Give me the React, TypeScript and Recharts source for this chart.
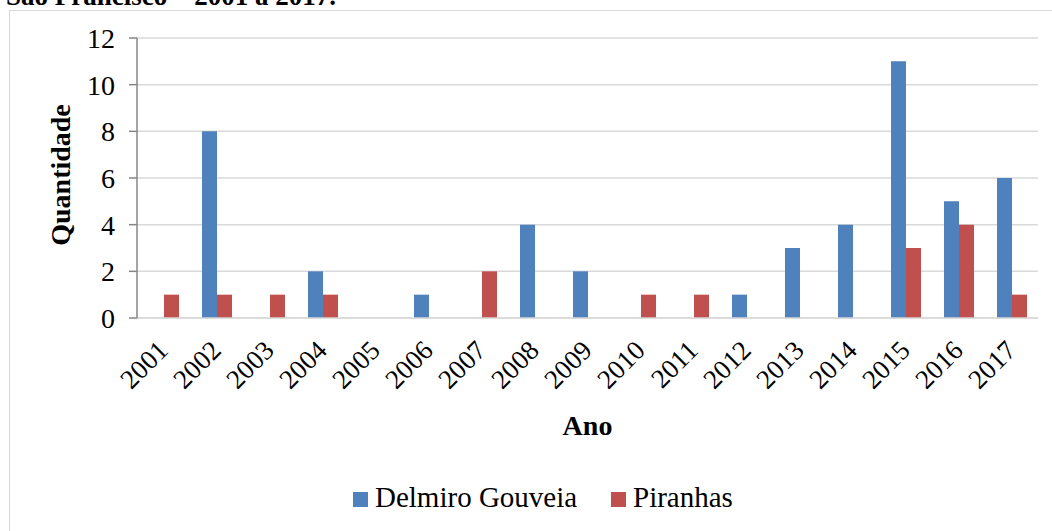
import React from 'react';
import { BarChart, Bar, XAxis, YAxis, CartesianGrid, Legend } from 'recharts';

const years = ['2001','2002','2003','2004','2005','2006','2007','2008','2009','2010','2011','2012','2013','2014','2015','2016','2017'];
const delmiroGouveia = [0, 8, 0, 2, 0, 1, 0, 4, 2, 0, 0, 1, 3, 4, 11, 5, 6];
const piranhas = [1, 1, 1, 1, 0, 0, 2, 0, 0, 1, 1, 0, 0, 0, 3, 4, 1];
const yTicks = [0, 2, 4, 6, 8, 10, 12];

const BLUE = '#4f81bd';
const RED = '#c0504d';
const FONT = "'Liberation Serif', 'Times New Roman', serif";

const data = years.map((y, i) => ({ ano: y, dg: delmiroGouveia[i], pi: piranhas[i] }));

const XTick = (props: any) => {
  const { x, y, payload } = props;
  const ex = x + 6;
  const ey = y + 34;
  return (
    <text x={ex} y={ey} textAnchor="end" transform={`rotate(-45, ${ex}, ${ey})`}
      fontFamily={FONT} fontSize={27} fill="#000">{payload.value}</text>
  );
};

const LegendContent = () => (
  <div style={{ position: 'relative', width: 1052, height: 60, fontFamily: FONT, fontSize: 29, color: '#000' }}>
    <div style={{ position: 'absolute', left: 353, top: 21, width: 15, height: 15, background: BLUE }} />
    <div style={{ position: 'absolute', left: 375, top: 10, lineHeight: '33px', whiteSpace: 'nowrap' }}>Delmiro Gouveia</div>
    <div style={{ position: 'absolute', left: 611, top: 21, width: 15, height: 15, background: RED }} />
    <div style={{ position: 'absolute', left: 633, top: 10, lineHeight: '33px', whiteSpace: 'nowrap' }}>Piranhas</div>
  </div>
);

export default function App() {
  return (
    <div style={{ position: 'absolute', left: 0, top: 0, width: 1052, height: 531, overflow: 'hidden', background: '#fff' }}>
      <div style={{ position: 'absolute', left: 9, top: 10, width: 1200, height: 700, border: '1px solid #d9d9d9', boxSizing: 'border-box' }} />
      <div style={{ position: 'absolute', left: 6, top: -20, fontFamily: FONT, fontWeight: 'bold', fontSize: 27, lineHeight: '32px', whiteSpace: 'nowrap', color: '#000' }}>
        São Francisco – 2001 a 2017.
      </div>
      <div style={{ position: 'absolute', left: 0, top: 0 }}>
        <BarChart width={1052} height={531} data={data} barSize={15} barGap={0}
          margin={{ top: 38, right: 14, bottom: 0, left: 0 }}>
          <CartesianGrid vertical={false} stroke="#d9d9d9" strokeWidth={1.5} />
          <XAxis dataKey="ano" height={153} interval={0} tickLine={false} tickSize={0} tickMargin={0}
            axisLine={{ stroke: '#d9d9d9', strokeWidth: 1.5 }} tick={<XTick />}
            label={{
              content: (p: any) => (
                <text x={p.viewBox.x + p.viewBox.width / 2} y={p.viewBox.y + 117} textAnchor="middle"
                  fontFamily={FONT} fontWeight="bold" fontSize={28} fill="#000">Ano</text>
              ),
            }} />
          <YAxis width={137} domain={[0, 12]} ticks={yTicks} interval={0} tickSize={8} tickMargin={14}
            axisLine={{ stroke: '#868686', strokeWidth: 1.5 }} tickLine={{ stroke: '#868686', strokeWidth: 1.5 }}
            tick={{ fontFamily: FONT, fontSize: 28, fill: '#000' }}
            label={{
              content: (p: any) => {
                const cy = p.viewBox.y + p.viewBox.height / 2 - 3;
                return (
                  <text x={70} y={cy} textAnchor="middle" transform={`rotate(-90, 70, ${cy})`}
                    fontFamily={FONT} fontWeight="bold" fontSize={28} fill="#000">Quantidade</text>
                );
              },
            }} />
          <Legend verticalAlign="bottom" align="left" content={<LegendContent />}
            wrapperStyle={{ left: 0, width: 1052, height: 60 }} />
          <Bar dataKey="dg" name="Delmiro Gouveia" fill={BLUE} isAnimationActive={false} />
          <Bar dataKey="pi" name="Piranhas" fill={RED} isAnimationActive={false} />
        </BarChart>
      </div>
    </div>
  );
}
